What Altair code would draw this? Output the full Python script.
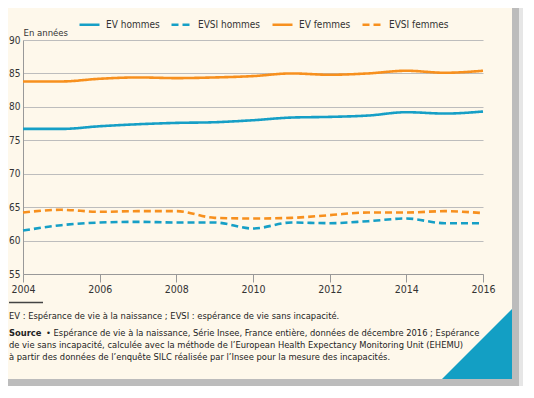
import altair as alt
import pandas as pd

years = list(range(2004, 2017))
ev_hommes = [76.7, 76.7, 77.1, 77.4, 77.6, 77.7, 78.0, 78.4, 78.5, 78.7, 79.2, 79.0, 79.3]
evsi_hommes = [61.5, 62.3, 62.7, 62.8, 62.7, 62.7, 61.8, 62.7, 62.6, 62.9, 63.3, 62.6, 62.6]
ev_femmes = [83.8, 83.8, 84.2, 84.4, 84.3, 84.4, 84.6, 85.0, 84.8, 85.0, 85.4, 85.1, 85.4]
evsi_femmes = [64.2, 64.6, 64.3, 64.4, 64.4, 63.4, 63.3, 63.4, 63.8, 64.2, 64.2, 64.4, 64.1]

series_names = ["EV hommes", "EVSI hommes", "EV femmes", "EVSI femmes"]
series_values = [ev_hommes, evsi_hommes, ev_femmes, evsi_femmes]
series_colors = ["#169fc6", "#169fc6", "#f7901e", "#f7901e"]
series_dash = [[1, 0], [7, 4], [1, 0], [7, 4]]

x_ticks = [2004, 2006, 2008, 2010, 2012, 2014, 2016]
y_ticks = [55, 60, 65, 70, 75, 80, 85, 90]

note_line = "EV : Espérance de vie à la naissance ; EVSI : espérance de vie sans incapacité."
source_label = "Source"
source_lines = [
    "• Espérance de vie à la naissance, Série Insee, France entière, données de décembre 2016 ; Espérance",
    "de vie sans incapacité, calculée avec la méthode de l’European Health Expectancy Monitoring Unit (EHEMU)",
    "à partir des données de l’enquête SILC réalisée par l’Insee pour la mesure des incapacités.",
]

FONT = "DejaVu Sans Condensed, Liberation Sans Narrow, sans-serif"
BG = "#fef8eb"
TXT = "#333333"

rows = []
for name, vals in zip(series_names, series_values):
    for yr, v in zip(years, vals):
        rows.append({"annee": yr, "valeur": v, "serie": name})
df = pd.DataFrame(rows)

legend = alt.Legend(
    title=None, orient="none", legendX=55, legendY=-27, direction="horizontal",
    symbolType="stroke", symbolSize=400, symbolStrokeWidth=2.5,
    labelFontSize=10, labelFont=FONT, labelColor=TXT, labelOffset=5,
    columnPadding=6, padding=0,
)

lines = alt.Chart(df).mark_line(strokeWidth=2.6, interpolate="monotone").encode(
    x=alt.X("annee:Q", scale=alt.Scale(domain=[2004, 2016], nice=False, zero=False),
            axis=alt.Axis(values=x_ticks, format="d", title=None, grid=False,
                          tickSize=8, tickColor="#999999", domainColor="#999999",
                          labelPadding=2, labelFontSize=10.5, labelFont=FONT,
                          labelColor=TXT, labelFlush=False)),
    y=alt.Y("valeur:Q", scale=alt.Scale(domain=[55, 90], nice=False, zero=False),
            axis=alt.Axis(values=y_ticks, title="En années", titleAngle=0, titleAlign="left",
                          titleX=0, titleY=-8, titleBaseline="middle", titleFont=FONT,
                          titleFontSize=9.5, titleFontWeight="normal", titleColor=TXT,
                          grid=True, gridColor="#bdbdbd", tickSize=0, labelPadding=3,
                          domainColor="#999999", labelFontSize=10, labelFont=FONT,
                          labelColor=TXT)),
    color=alt.Color("serie:N", scale=alt.Scale(domain=series_names, range=series_colors),
                    legend=legend),
    strokeDash=alt.StrokeDash("serie:N", scale=alt.Scale(domain=series_names, range=series_dash),
                              legend=legend),
)

one = alt.Data(values=[{"k": 1}])

shadow_white_r = alt.Chart(one).mark_rect(color="#ffffff").encode(
    x=alt.value(489), x2=alt.value(520), y=alt.value(-40), y2=alt.value(360))
shadow_white_b = alt.Chart(one).mark_rect(color="#ffffff").encode(
    x=alt.value(-30), x2=alt.value(520), y=alt.value(339), y2=alt.value(360))
shadow_r = alt.Chart(one).mark_rect(color="#bcbcbc").encode(
    x=alt.value(489), x2=alt.value(496), y=alt.value(-36), y2=alt.value(347))
shadow_r2 = alt.Chart(one).mark_rect(color="#e6e6e6").encode(
    x=alt.value(496), x2=alt.value(500), y=alt.value(-34), y2=alt.value(349))
shadow_b = alt.Chart(one).mark_rect(color="#bcbcbc").encode(
    x=alt.value(-23), x2=alt.value(496), y=alt.value(339), y2=alt.value(347))
shadow_b2 = alt.Chart(one).mark_rect(color="#e6e6e6").encode(
    x=alt.value(-23), x2=alt.value(500), y=alt.value(347), y2=alt.value(350))

triangle = alt.Chart(one).mark_point(
    shape="M -1 1 L 1 -1 L 1 1 Z", filled=True, opacity=1, strokeWidth=0, color="#139fc4"
).encode(x=alt.value(454), y=alt.value(304), size=alt.value(4900))

sep = alt.Chart(one).mark_rule(color="#444444", strokeWidth=1.3).encode(
    x=alt.value(-14), x2=alt.value(20), y=alt.value(262.5))

def txt(text, x, y, bold=False):
    return alt.Chart(one).mark_text(
        text=text, align="left", baseline="middle", font=FONT, fontSize=9.3,
        fontWeight="bold" if bold else "normal", color="#222222"
    ).encode(x=alt.value(x), y=alt.value(y))

texts = [txt(note_line, -14, 276), txt(source_label, -14, 292.5, bold=True)]
texts.append(txt(source_lines[0], 23, 292.5))
texts.append(txt(source_lines[1], -14, 304.5))
texts.append(txt(source_lines[2], -14, 316.5))

chart = alt.layer(
    shadow_white_r, shadow_white_b, shadow_r2, shadow_b2, shadow_r, shadow_b,
    triangle, lines, sep, *texts
).properties(
    width=460, height=234, background=BG,
    padding={"left": 15, "top": 32, "right": 42, "bottom": 112},
    autosize=alt.AutoSizeParams(type="none"),
).configure_view(stroke=None)

chart.save("out.html", embed_options={"renderer": "svg", "actions": False})
